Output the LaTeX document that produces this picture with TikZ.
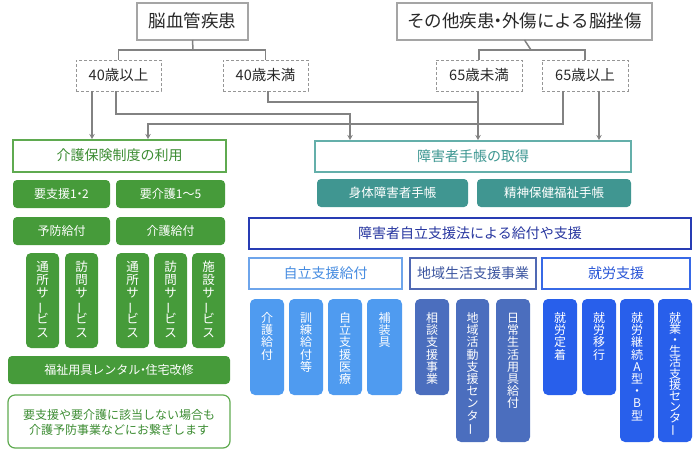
\documentclass[tikz,border=0pt]{standalone}
\usepackage{fontspec}
\setmainfont{Noto Sans CJK JP}
\usetikzlibrary{fit,calc,arrows.meta}
\definecolor{topgray}{RGB}{165,165,165}
\definecolor{dashgray}{RGB}{150,150,150}
\definecolor{textdark}{RGB}{40,40,40}
\definecolor{conngray}{RGB}{130,130,130}
\definecolor{gfill}{RGB}{70,155,58}
\definecolor{gline}{RGB}{95,170,80}
\definecolor{gtext}{RGB}{60,140,50}
\definecolor{tfill}{RGB}{64,150,145}
\definecolor{tline}{RGB}{100,175,170}
\definecolor{ttext}{RGB}{60,150,145}
\definecolor{hline}{RGB}{40,60,180}
\definecolor{htext}{RGB}{40,55,160}
\definecolor{lbfill}{RGB}{79,155,240}
\definecolor{lbline}{RGB}{110,165,235}
\definecolor{lbtext}{RGB}{70,140,225}
\definecolor{slfill}{RGB}{75,110,190}
\definecolor{slline}{RGB}{80,105,180}
\definecolor{sltext}{RGB}{60,85,160}
\definecolor{bbfill}{RGB}{40,95,235}
\definecolor{bbline}{RGB}{55,105,230}
\definecolor{bbtext}{RGB}{40,85,215}
\newcommand\vbar{\raisebox{0pt}[0.88em][0.12em]{\rotatebox[origin=c]{90}{ー}}}
\newcommand\tdot{\kern-0.28em・\kern-0.28em}
\newcommand\fst{\rule{0pt}{10.5pt}}
% box: style, name, x1, y1, x2, y2, text
\newcommand\bx[7]{\node[#1, minimum width={(#5-#3)*1pt}, minimum height={(#6-#4)*1pt}] (#2) at ({(#3+#5)/2},{(#4+#6)/2}) {#7};}
\tikzset{
  base/.style={inner sep=0pt, outer sep=0pt, align=center},
  one/.style={inner sep=0pt, outer sep=0pt},
  topbox/.style={one, text height=14.7pt, text depth=2.8pt, draw=topgray, line width=1.2pt, fill=white, text=textdark, font=\fontsize{17.5}{20}\selectfont},
  dbox/.style={one, text height=12.2pt, text depth=2.3pt, draw=dashgray, dash pattern=on 3pt off 2pt, line width=1pt, text=textdark, font=\fontsize{14.5}{17}\selectfont},
  h14/.style={one, text height=11.8pt, text depth=2.2pt, line width=1.2pt, fill=white, font=\fontsize{14}{16}\selectfont},
  gout/.style={h14, draw=gline, text=gtext},
  tout/.style={h14, draw=tline, text=ttext},
  hout/.style={h14, draw=hline, text=htext},
  lbout/.style={h14, draw=lbline, text=lbtext},
  slout/.style={h14, draw=slline, text=sltext},
  bbout/.style={h14, draw=bbline, text=bbtext},
  gbox/.style={one, text height=10.1pt, text depth=1.9pt, fill=gfill, rounded corners=4pt, text=white, font=\fontsize{12}{14}\selectfont},
  tbox/.style={one, text height=10.5pt, text depth=2pt, fill=tfill, rounded corners=4pt, text=white, font=\fontsize{12.5}{14}\selectfont},
  vbox/.style={base, rounded corners=5pt},
  vtxt/.style={base, anchor=north, text=white, font=\fontsize{12}{12.2}\selectfont},
  gvtxt/.style={base, anchor=north, text=white, font=\fontsize{12.5}{13.1}\selectfont},
  conn/.style={draw=conngray, line width=1.5pt},
  arr/.style={conn, -{Stealth[length=5pt,width=5.5pt]}, shorten >=1pt},
}
\begin{document}
\begin{tikzpicture}[x=1pt,y=-1pt]
\useasboundingbox (0,0) rectangle (700,450);
% top
\bx{topbox}{A}{137}{3}{248}{40}{脳血管疾患}
\bx{topbox}{B}{397}{3}{652}{40}{その他疾患\tdot 外傷による脳挫傷}
\bx{dbox}{d1}{76}{60}{161}{91}{40歳以上}
\bx{dbox}{d2}{223}{60}{308}{91}{40歳未満}
\bx{dbox}{d3}{436}{60}{522}{91}{65歳未満}
\bx{dbox}{d4}{542}{60}{628}{91}{65歳以上}
% left column
\bx{gout}{K}{13}{140}{226}{172}{介護保険制度の利用}
\bx{gbox}{g1}{13}{180}{110}{208}{要支援1\tdot 2}
\bx{gbox}{g2}{116}{180}{225}{208}{要介護1〜5}
\bx{gbox}{g3}{13}{217}{110}{245}{予防給付}
\bx{gbox}{g4}{116}{217}{225}{245}{介護給付}
\node[vbox, fill=gfill, fit={(26,253) (59,348)}] (v1) {};
\node[vbox, fill=gfill, fit={(65,253) (98,348)}] (v2) {};
\node[vbox, fill=gfill, fit={(116,253) (149,348)}] (v3) {};
\node[vbox, fill=gfill, fit={(154,253) (187,348)}] (v4) {};
\node[vbox, fill=gfill, fit={(192,253) (225,348)}] (v5) {};
\node[gvtxt] (v1t) at ($(v1.north)+(0,8)$) {\fst 通\\所\\サ\\\vbar\\ビ\\ス};
\node[gvtxt] (v2t) at ($(v2.north)+(0,8)$) {\fst 訪\\問\\サ\\\vbar\\ビ\\ス};
\node[gvtxt] (v3t) at ($(v3.north)+(0,8)$) {\fst 通\\所\\サ\\\vbar\\ビ\\ス};
\node[gvtxt] (v4t) at ($(v4.north)+(0,8)$) {\fst 訪\\問\\サ\\\vbar\\ビ\\ス};
\node[gvtxt] (v5t) at ($(v5.north)+(0,8)$) {\fst 施\\設\\サ\\\vbar\\ビ\\ス};
\bx{gbox}{g5}{8}{356}{230}{384}{福祉用具レンタル\tdot 住宅改修}
\bx{base, draw=gline, line width=1.2pt, rounded corners=7pt, text=gtext, font=\fontsize{12}{15}\selectfont}{note}{8}{395}{230}{448}{\rule{0pt}{13pt}要支援や要介護に該当しない場合も\\介護予防事業などにお繋ぎします\rule[-2pt]{0pt}{2pt}}
% right column
\bx{tout}{S}{315}{141}{631}{172}{障害者手帳の取得}
\bx{tbox}{t1}{317}{179}{468}{207}{身体障害者手帳}
\bx{tbox}{t2}{477}{179}{631}{207}{精神保健福祉手帳}
\bx{hout}{H}{249}{218}{691}{249}{障害者自立支援法による給付や支援}
\bx{lbout}{h1}{249}{258}{402}{289}{自立支援給付}
\bx{slout}{h2}{410}{258}{536}{289}{地域生活支援事業}
\bx{bbout}{h3}{542}{258}{690}{289}{就労支援}
% light blue
\node[vbox, fill=lbfill, fit={(250,299) (284,395)}] (b1) {};
\node[vbox, fill=lbfill, fit={(289,299) (323,395)}] (b2) {};
\node[vbox, fill=lbfill, fit={(328,299) (362,395)}] (b3) {};
\node[vbox, fill=lbfill, fit={(367,299) (402,395)}] (b4) {};
\node[vtxt] (b1t) at ($(b1.north)+(0,13)$) {\fst 介\\護\\給\\付};
\node[vtxt] (b2t) at ($(b2.north)+(0,13)$) {\fst 訓\\練\\給\\付\\等};
\node[vtxt] (b3t) at ($(b3.north)+(0,13)$) {\fst 自\\立\\支\\援\\医\\療};
\node[vtxt] (b4t) at ($(b4.north)+(0,13)$) {\fst 補\\装\\具};
% slate
\node[vbox, fill=slfill, fit={(415,299) (449,395)}] (c1) {};
\node[vbox, fill=slfill, fit={(456,299) (489,442)}] (c2) {};
\node[vbox, fill=slfill, fit={(496,299) (530,442)}] (c3) {};
\node[vtxt] (c1t) at ($(c1.north)+(0,13)$) {\fst 相\\談\\支\\援\\事\\業};
\node[vtxt] (c2t) at ($(c2.north)+(0,13)$) {\fst 地\\域\\活\\動\\支\\援\\セ\\ン\\タ\\\vbar};
\node[vtxt] (c3t) at ($(c3.north)+(0,13)$) {\fst 日\\常\\生\\活\\用\\具\\給\\付};
% bright blue
\node[vbox, fill=bbfill, fit={(543,299) (577,395)}] (e1) {};
\node[vbox, fill=bbfill, fit={(582,299) (616,395)}] (e2) {};
\node[vbox, fill=bbfill, fit={(620,299) (654,442)}] (e3) {};
\node[vbox, fill=bbfill, fit={(658,299) (692,442)}] (e4) {};
\node[vtxt] (e1t) at ($(e1.north)+(0,13)$) {\fst 就\\労\\定\\着};
\node[vtxt] (e2t) at ($(e2.north)+(0,13)$) {\fst 就\\労\\移\\行};
\node[vtxt] (e3t) at ($(e3.north)+(0,13)$) {\fst 就\\労\\継\\続\\A\\型\\・\\B\\型};
\node[vtxt, font=\fontsize{12}{11.1}\selectfont] (e4t) at ($(e4.north)+(0,13)$) {\fst 就\\業\\・\\生\\活\\支\\援\\セ\\ン\\タ\\\vbar};
% connectors
\coordinate (j1) at (193,50);
\coordinate (j2) at (531,50);
\coordinate (x1) at (92,0);
\coordinate (x2) at (116,0);
\coordinate (x3) at (148,0);
\coordinate (x4) at (268,0);
\coordinate (x5) at (350,0);
\coordinate (x6) at (478,0);
\coordinate (x7) at (563,0);
\coordinate (x8) at (599,0);
\coordinate (y1) at (0,102);
\coordinate (y2) at (0,114);
\coordinate (y3) at (0,124);
\draw[conn] (A.south) -- (j1);
\draw[conn] (d1.north) |- (j1) -| (d2.north);
\draw[conn] (B.south) -- (j2);
\draw[conn] (d3.north) |- (j2) -| (d4.north);
\draw[arr] (d1.south -| x1) -- (K.north -| x1);
\draw[arr] (d1.south -| x2) |- (y2 -| x5) -- (S.north -| x5);
\draw[conn] (d2.south -| x4) |- (y1 -| x6);
\draw[arr] (d3.south -| x6) -- (S.north -| x6);
\draw[arr] (d4.south -| x7) |- (y3 -| x3) -- (K.north -| x3);
\draw[arr] (d4.south -| x8) -- (S.north -| x8);
\end{tikzpicture}
\end{document}
